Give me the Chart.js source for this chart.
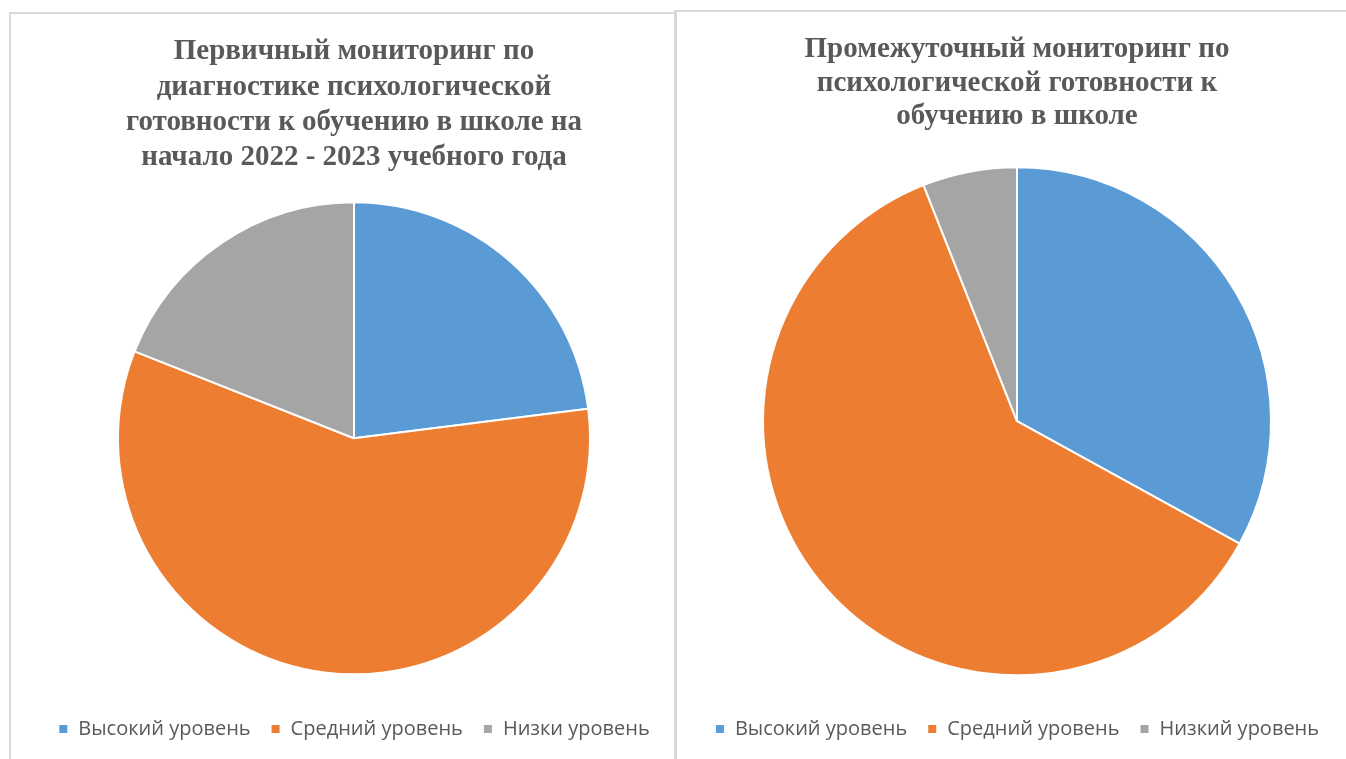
<!DOCTYPE html>
<html>
<head>
<script src="https://cdn.jsdelivr.net/npm/chart.js@4.4.0/dist/chart.umd.min.js"></script>
<style>
  body { margin: 0; background: #fff; width: 1346px; height: 759px; overflow: hidden; position: relative; }
  .box { position: absolute; border: 2px solid #d9d9d9; box-sizing: border-box; }
  #box1 { left: 9px; top: 12px; width: 668px; height: 760px; }
  #box2 { left: 674px; top: 10px; width: 690px; height: 760px; }
  .wrap { position: absolute; }
  #w1 { left: 9px; top: 12px; width: 666px; height: 747px; }
  #w2 { left: 675px; top: 10px; width: 671px; height: 749px; }
</style>
</head>
<body>
<div class="box" id="box1"></div>
<div class="box" id="box2"></div>
<div class="wrap" id="w1"><canvas id="c1"></canvas></div>
<div class="wrap" id="w2"><canvas id="c2"></canvas></div>
<script>
  const labels1 = ['Высокий уровень', 'Средний уровень', 'Низки уровень'];
  const values1 = [23, 58, 19];
  const title1 = ['Первичный мониторинг по', 'диагностике психологической', 'готовности к обучению в школе на', 'начало 2022 - 2023 учебного года'];

  const labels2 = ['Высокий уровень', 'Средний уровень', 'Низкий уровень'];
  const values2 = [33, 61, 6];
  const title2 = ['Промежуточный мониторинг по', 'психологической готовности к', 'обучению в школе'];

  const colors = ['#5B9BD5', '#ED7D31', '#A5A5A5'];

  function makePie(id, labels, values, title, radius, padL, titleLH, titlePad) {
    return new Chart(document.getElementById(id), {
      type: 'pie',
      data: {
        labels: labels,
        datasets: [{
          data: values,
          backgroundColor: colors,
          borderColor: '#ffffff',
          borderWidth: 2,
          radius: radius
        }]
      },
      options: {
        responsive: true,
        maintainAspectRatio: false,
        animation: false,
        layout: { padding: { left: padL, right: 0, top: 0, bottom: 10 } },
        plugins: {
          tooltip: { enabled: false },
          title: {
            display: true,
            text: title,
            color: '#595959',
            font: { family: '"Liberation Serif", serif', size: 29, weight: 'bold', lineHeight: titleLH },
            padding: titlePad
          },
          legend: {
            position: 'bottom',
            labels: {
              color: '#595959',
              boxWidth: 10,
              boxHeight: 10,
              padding: 20,
              font: { family: '"Open Sans", sans-serif', size: 20 }
            }
          }
        }
      }
    });
  }

  makePie('c1', labels1, values1, title1, 236, 24, 1.22, { top: 22, bottom: 2 });
  makePie('c2', labels2, values2, title2, 254, 13, 1.155, { top: 23, bottom: 10 });
</script>
</body>
</html>
